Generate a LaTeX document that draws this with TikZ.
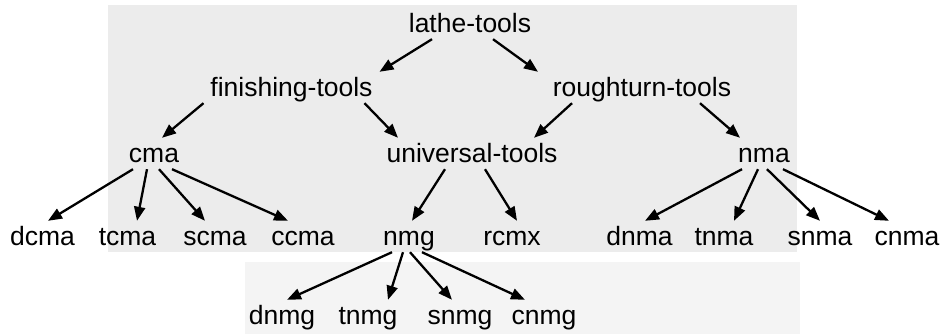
\documentclass[tikz,border=0pt]{standalone}
\usepackage{fontspec}
\setmainfont{Liberation Sans}
\usepackage{xcolor}
\usepackage{tikz}
\usetikzlibrary{positioning,calc,arrows.meta}

\definecolor{scangray}{RGB}{236,236,236}
\definecolor{scanpale}{RGB}{244,244,244}

\begin{document}
\begin{tikzpicture}[x=1pt,y=1pt,
		tool/.style={font=\fontsize{26.5}{30}\selectfont, inner sep=0pt, text height=25pt, text depth=6pt, anchor=base},
		isa/.style={line width=2.3pt, -{Triangle[length=14pt,width=11pt]}}]
	\def\rA{301}
	\def\rB{237}
	\def\rC{171}
	\def\rD{88}
	\def\rE{9}
	\useasboundingbox (0,0) rectangle (945,334);
	% scanned page shading
	\fill[scangray] (108,82) rectangle (797,329);
	\fill[scanpale] (245,0) rectangle (800,72);

	% top levels
	\node[tool] (lathe) at (470,\rA) {lathe-tools};
	\node[tool] (finishing) at (291.5,\rB) {finishing-tools};
	\node[tool] (roughturn) at (642,\rB) {roughturn-tools};
	\node[tool] (cma) at (154,\rC) {cma};
	\node[tool] (universal) at (472,\rC) {universal-tools};
	\node[tool] (nma) at (764,\rC) {nma};

	% inserts
	\node[tool] (dcma) at (42.5,\rD) {dcma};
	\node[tool] (tcma) at (127.5,\rD) {tcma};
	\node[tool] (scma) at (215,\rD) {scma};
	\node[tool] (ccma) at (303,\rD) {ccma};
	\node[tool] (nmg) at (409,\rD) {nmg};
	\node[tool] (rcmx) at (512,\rD) {rcmx};
	\node[tool] (dnma) at (639.5,\rD) {dnma};
	\node[tool] (tnma) at (724,\rD) {tnma};
	\node[tool] (snma) at (820,\rD) {snma};
	\node[tool] (cnma) at (907,\rD) {cnma};

	% bottom: nmg family
	\node[tool] (dnmg) at (282,\rE) {dnmg};
	\node[tool] (tnmg) at (368,\rE) {tnmg};
	\node[tool] (snmg) at (460,\rE) {snmg};
	\node[tool] (cnmg) at (544,\rE) {cnmg};

	\draw[isa] ([xshift=-38pt]lathe.south) -- ([xshift=88pt]finishing.north);
	\draw[isa] ([xshift=23pt]lathe.south) -- ([xshift=-104pt]roughturn.north);
	\draw[isa] ([xshift=-88pt]finishing.south) -- ([xshift=8pt]cma.north);
	\draw[isa] ([xshift=73pt]finishing.south) -- ([xshift=-74pt]universal.north);
	\draw[isa] ([xshift=-70pt]roughturn.south) -- ([xshift=62pt]universal.north);
	\draw[isa] ([xshift=58pt]roughturn.south) -- ([xshift=-24pt]nma.north);

	\draw[isa] ([xshift=-21pt]cma.south) -- ([xshift=5.5pt]dcma.north);
	\draw[isa] ([xshift=-7pt]cma.south) -- ([xshift=9.5pt]tcma.north);
	\draw[isa] ([xshift=5pt]cma.south) -- ([xshift=-10pt]scma.north);
	\draw[isa] ([xshift=18pt]cma.south) -- ([xshift=-15pt]ccma.north);

	\draw[isa] ([xshift=-27pt]universal.south) -- ([xshift=3pt]nmg.north);
	\draw[isa] ([xshift=13pt]universal.south) -- ([xshift=5pt]rcmx.north);

	\draw[isa] ([xshift=-22pt]nma.south) -- ([xshift=5.5pt]dnma.north);
	\draw[isa] ([xshift=-6pt]nma.south) -- ([xshift=10pt]tnma.north);
	\draw[isa] ([xshift=3pt]nma.south) -- (snma.north);
	\draw[isa] ([xshift=19pt]nma.south) -- ([xshift=-18pt]cnma.north);

	\draw[isa] ([xshift=-17pt]nmg.south) -- ([xshift=5pt]dnmg.north);
	\draw[isa] ([xshift=-6pt]nmg.south) -- ([xshift=20pt]tnmg.north);
	\draw[isa] ([xshift=1pt]nmg.south) -- ([xshift=-8pt]snmg.north);
	\draw[isa] ([xshift=13pt]nmg.south) -- ([xshift=-19pt]cnmg.north);
\end{tikzpicture}
\end{document}
